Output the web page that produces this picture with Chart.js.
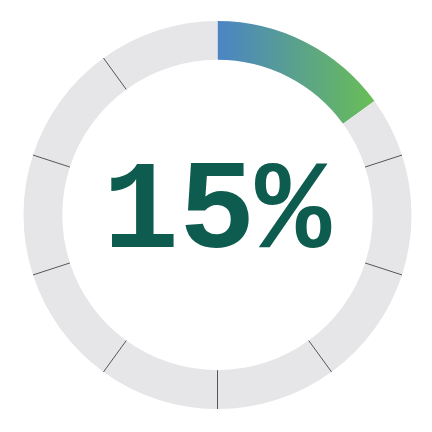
<!DOCTYPE html>
<html>
<head>
<meta charset="utf-8">
<script src="https://cdn.jsdelivr.net/npm/chart.js@4.4.0/dist/chart.umd.min.js"></script>
<style>
  html, body { margin: 0; padding: 0; background: #fff; }
  #wrap { position: relative; width: 432px; height: 432px; }
  #label {
    position: absolute; left: 1px; top: -3px; width: 432px; height: 432px;
    display: flex; align-items: center; justify-content: center;
    font-family: "Liberation Mono", monospace; font-weight: bold;
    font-size: 127px; color: #0e5c4f; pointer-events: none;
  }
</style>
</head>
<body>
<div id="wrap">
  <canvas id="myChart" width="432" height="432"></canvas>
  <div id="label"></div>
</div>
<script>
// progress value and the ring split into tenths
var progress = 15;
var steps = [10, 20, 30, 40, 50, 60, 70, 80, 90, 100];
var labelText = "15%";

// segments: progress part, rest up to the next tenth, then the remaining tenths
function buildSegments() {
  var segs = [progress];
  var prev = progress;
  steps.forEach(function(s) {
    if (s > prev) {
      segs.push(s - prev);
      prev = s;
    }
  });
  return segs;
}

var segments = buildSegments();

// separator lines at the start of every grey tenth (not the one right after progress)
var separatorPlugin = {
  id: 'separators',
  afterDatasetsDraw: function(chart) {
    var ctx = chart.ctx;
    var arcs = chart.getDatasetMeta(0).data;
    ctx.save();
    ctx.strokeStyle = '#555555';
    ctx.lineWidth = 1;
    for (var i = 2; i < arcs.length; i++) {
      var a = arcs[i];
      var ang = a.startAngle;
      ctx.beginPath();
      ctx.moveTo(a.x + Math.cos(ang) * a.innerRadius, a.y + Math.sin(ang) * a.innerRadius);
      ctx.lineTo(a.x + Math.cos(ang) * a.outerRadius, a.y + Math.sin(ang) * a.outerRadius);
      ctx.stroke();
    }
    ctx.restore();
  }
};

function buildChart() {
  var ctx = document.getElementById("myChart").getContext('2d');
  var grad = ctx.createLinearGradient(217, 0, 375, 0);
  grad.addColorStop(0, '#4a84c5');
  grad.addColorStop(1, '#69be55');
  var colors = segments.map(function(v, i) { return i === 0 ? grad : '#e6e6e8'; });

  new Chart(ctx, {
    type: 'doughnut',
    data: {
      labels: segments.map(function(v, i) { return 'seg' + i; }),
      datasets: [{
        data: segments,
        backgroundColor: colors,
        borderWidth: 0
      }]
    },
    options: {
      responsive: false,
      animation: false,
      cutout: '80%',
      layout: { padding: { left: 23.5, right: 20.5, top: 21, bottom: 23 } },
      plugins: { legend: { display: false }, tooltip: { enabled: false } }
    },
    plugins: [separatorPlugin]
  });
  document.getElementById('label').textContent = labelText;
}

buildChart();
</script>
</body>
</html>
